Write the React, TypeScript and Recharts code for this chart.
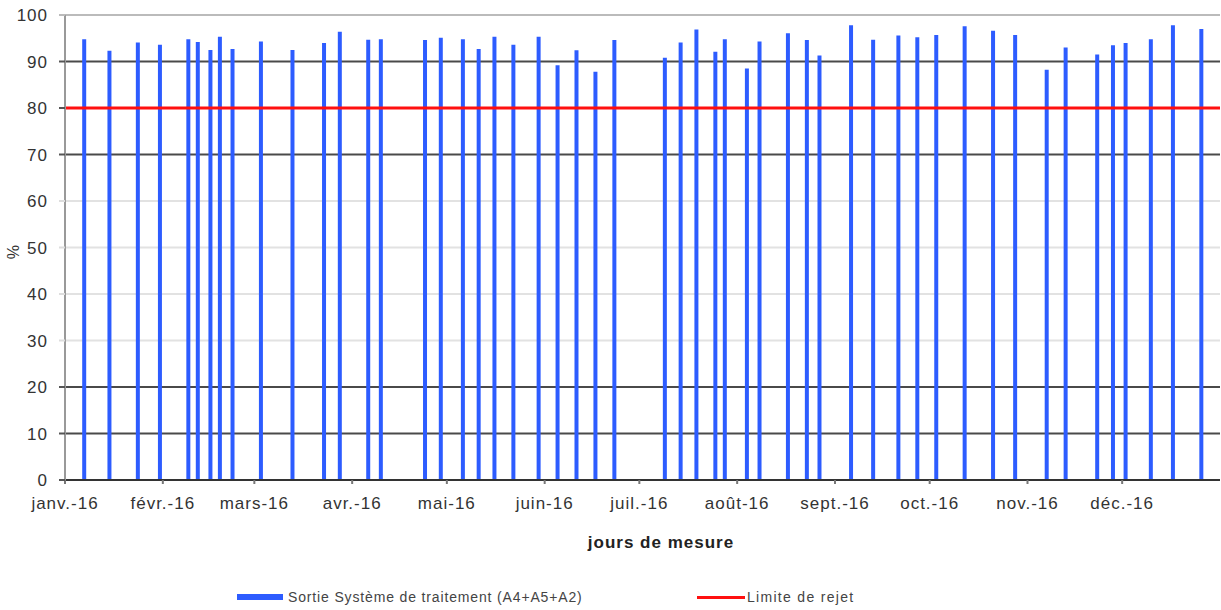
import React from 'react';
import {
  ComposedChart,
  Bar,
  XAxis,
  YAxis,
  CartesianGrid,
  ReferenceLine,
} from 'recharts';

// ---- data ----
const measureDates: string[] = [
  '2016-01-07', '2016-01-15', '2016-01-24', '2016-01-31', '2016-02-09', '2016-02-12',
  '2016-02-16', '2016-02-19', '2016-02-23', '2016-03-03', '2016-03-13', '2016-03-23',
  '2016-03-28', '2016-04-06', '2016-04-10', '2016-04-24', '2016-04-29', '2016-05-06',
  '2016-05-11', '2016-05-16', '2016-05-22', '2016-05-30', '2016-06-05', '2016-06-11',
  '2016-06-17', '2016-06-23', '2016-07-09', '2016-07-14', '2016-07-19', '2016-07-25',
  '2016-07-28', '2016-08-04', '2016-08-08', '2016-08-17', '2016-08-23', '2016-08-27',
  '2016-09-06', '2016-09-13', '2016-09-21', '2016-09-27', '2016-10-03', '2016-10-12',
  '2016-10-21', '2016-10-28', '2016-11-07', '2016-11-13', '2016-11-23', '2016-11-28',
  '2016-12-02', '2016-12-10', '2016-12-17', '2016-12-26',
];

const sortieValues: number[] = [
  94.8, 92.3, 94.1, 93.6, 94.8, 94.2,
  92.5, 95.3, 92.7, 94.3, 92.5, 94.0,
  96.4, 94.7, 94.8, 94.6, 95.1, 94.8,
  92.7, 95.3, 93.6, 95.3, 89.2, 92.4,
  87.8, 94.6, 90.8, 94.1, 96.9, 92.1,
  94.8, 88.5, 94.3, 96.1, 94.6, 91.3,
  97.8, 94.7, 95.6, 95.2, 95.7, 97.6,
  96.6, 95.7, 88.2, 93.0, 91.5, 93.5,
  94.0, 94.8, 97.8, 97.0,
];

const limiteRejet = 80;

const monthStarts: string[] = [
  '2016-01-01', '2016-02-01', '2016-03-01', '2016-04-01', '2016-05-01', '2016-06-01',
  '2016-07-01', '2016-08-01', '2016-09-01', '2016-10-01', '2016-11-01', '2016-12-01',
];
const monthLabels: string[] = [
  'janv.-16', 'févr.-16', 'mars-16', 'avr.-16', 'mai-16', 'juin-16',
  'juil.-16', 'août-16', 'sept.-16', 'oct.-16', 'nov.-16', 'déc.-16',
];
const domainStart = '2016-01-01';
const domainEnd = '2017-01-01';

const yTicks: number[] = [0, 10, 20, 30, 40, 50, 60, 70, 80, 90, 100];
const darkGridLevels: number[] = [10, 20, 70, 90];
const lightGridLevels: number[] = [30, 40, 50, 60];

const seriesName = 'Sortie Système de traitement (A4+A5+A2)';
const limitName = 'Limite de rejet';
const xAxisTitle = 'jours de mesure';
const yAxisTitle = '%';

// ---- helpers ----
const ts = (s: string) => {
  const [y, m, d] = s.split('-').map(Number);
  return Date.UTC(y, m - 1, d);
};

const chartData = measureDates.map((d, i) => ({ t: ts(d), value: sortieValues[i] }));
const monthTicks = monthStarts.map(ts);

const FONT = '"Liberation Sans", Arial, sans-serif';
const BLUE = '#2d5cff';
const RED = '#ff1010';
const PLOT_LEFT = 65;

const YTick = (props: any) => {
  const { y, payload } = props;
  const v = payload.value as number;
  let stroke = '#555';
  if (lightGridLevels.includes(v)) stroke = '#dddddd';
  if (v === 100) stroke = '#bbbbbb';
  return (
    <g>
      <line x1={PLOT_LEFT - 6} x2={PLOT_LEFT} y1={y} y2={y} stroke={stroke} strokeWidth={2} />
      <text
        x={PLOT_LEFT - 17}
        y={y}
        dy="0.36em"
        textAnchor="end"
        fontFamily={FONT}
        fontSize={17}
        letterSpacing={1}
        fill="#333"
      >
        {v}
      </text>
    </g>
  );
};

const XTick = (props: any) => {
  const { x, y, payload, index } = props;
  const i = monthTicks.indexOf(payload.value);
  return (
    <text
      x={x}
      y={y}
      dy="0.71em"
      textAnchor="middle"
      fontFamily={FONT}
      fontSize={17}
      letterSpacing={1}
      fill="#333"
    >
      {monthLabels[i >= 0 ? i : index]}
    </text>
  );
};

export default function App() {
  return (
    <div style={{ position: 'absolute', left: 0, top: 0, width: 1221, height: 610, background: '#fff' }}>
      <ComposedChart
        width={1221}
        height={610}
        data={chartData}
        margin={{ top: 15, right: 1, bottom: 100, left: 0 }}
      >
        <CartesianGrid
          horizontalValues={lightGridLevels}
          vertical={false}
          stroke="#e2e2e2"
          strokeWidth={2}
        />
        <CartesianGrid
          horizontalValues={darkGridLevels}
          vertical={false}
          stroke="#4a4a4a"
          strokeWidth={2}
        />
        <CartesianGrid
          horizontalValues={[100]}
          vertical={false}
          stroke="#bbbbbb"
          strokeWidth={2}
        />
        <XAxis
          dataKey="t"
          type="number"
          scale="time"
          domain={[ts(domainStart), ts(domainEnd)]}
          ticks={monthTicks}
          interval={0}
          minTickGap={0}
          tick={<XTick />}
          tickLine={{ stroke: '#777', strokeWidth: 2 }}
          tickSize={4}
          tickMargin={13}
          axisLine={{ stroke: '#333', strokeWidth: 2 }}
          height={30}
          allowDataOverflow
          label={{
            content: () => (
              <text
                x={661}
                y={548}
                textAnchor="middle"
                fontFamily={FONT}
                fontWeight="bold"
                fontSize={17}
                letterSpacing={1}
                fill="#222"
              >
                {xAxisTitle}
              </text>
            ),
          }}
        />
        <YAxis
          type="number"
          domain={[0, 100]}
          ticks={yTicks}
          interval={0}
          width={65}
          tick={<YTick />}
          tickLine={false}
          axisLine={{ stroke: '#999', strokeWidth: 2 }}
          label={{
            content: () => (
              <text
                x={19}
                y={252}
                transform="rotate(-90 19 252)"
                textAnchor="middle"
                fontFamily={FONT}
                fontSize={16}
                fill="#333"
              >
                {yAxisTitle}
              </text>
            ),
          }}
        />
        <Bar dataKey="value" name={seriesName} fill={BLUE} barSize={4} isAnimationActive={false} />
        <ReferenceLine y={limiteRejet} stroke={RED} strokeWidth={3} ifOverflow="extendDomain" />
      </ComposedChart>
      <div
        style={{
          position: 'absolute',
          left: 237,
          top: 589,
          display: 'flex',
          alignItems: 'center',
          fontFamily: FONT,
          fontSize: 14,
          letterSpacing: 0.85,
          color: '#444',
          whiteSpace: 'nowrap',
        }}
      >
        <span style={{ display: 'inline-block', width: 46, height: 6, background: BLUE, marginRight: 5 }} />
        <span>{seriesName}</span>
      </div>
      <div
        style={{
          position: 'absolute',
          left: 697,
          top: 589,
          display: 'flex',
          alignItems: 'center',
          fontFamily: FONT,
          fontSize: 14,
          letterSpacing: 1.3,
          color: '#444',
          whiteSpace: 'nowrap',
        }}
      >
        <span style={{ display: 'inline-block', width: 48, height: 3, background: RED, marginRight: 2 }} />
        <span>{limitName}</span>
      </div>
    </div>
  );
}
